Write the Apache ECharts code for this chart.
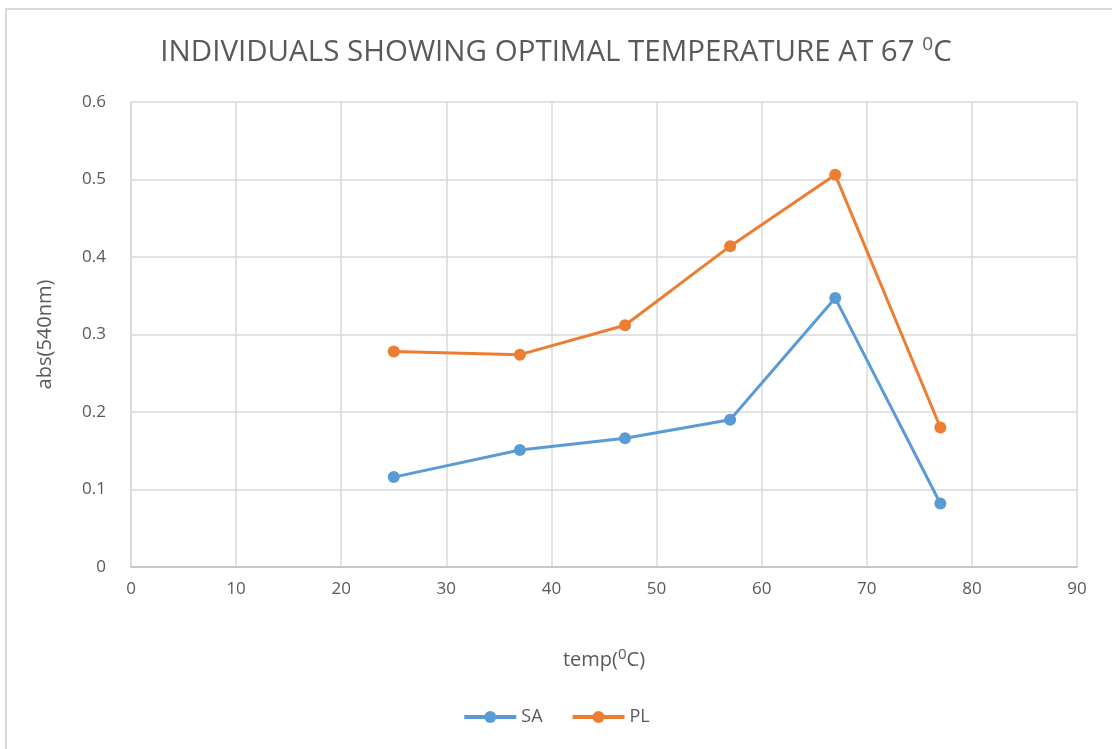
<!DOCTYPE html>
<html>
<head>
<meta charset="utf-8">
<script src="https://cdn.jsdelivr.net/npm/echarts@6/dist/echarts.min.js"></script>
<style>
  html, body { margin: 0; padding: 0; background: #fff; }
  #main { width: 1112px; height: 749px; }
</style>
</head>
<body>
<div id="main"></div>
<script>
// data
var temps = [25, 37, 47, 57, 67, 77];
var saValues = [0.116, 0.151, 0.166, 0.190, 0.347, 0.082];
var plValues = [0.278, 0.274, 0.312, 0.414, 0.506, 0.180];
var seriesNames = ["SA", "PL"];

function pairs(xs, ys) {
  var out = [];
  for (var i = 0; i < xs.length; i++) out.push([xs[i], ys[i]]);
  return out;
}

var textColor = "#595959";
var fontName = "'Open Sans', 'Liberation Sans', sans-serif";
var supStyle = { fontSize: 15, verticalAlign: "top", padding: [0, 0, 12, 0], color: textColor, fontFamily: fontName };

var chartDom = document.getElementById("main");
var myChart = echarts.init(chartDom);
var option = {
  animation: false,
  color: ["#5B9BD5", "#ED7D31"],
  graphic: [{
    type: "rect",
    shape: { x: 6, y: 9, width: 1200, height: 800 },
    style: { fill: "none", stroke: "#d9d9d9", lineWidth: 2 },
    silent: true
  }],
  title: {
    text: "INDIVIDUALS SHOWING OPTIMAL TEMPERATURE AT 67 {sup|0}C",
    left: "center",
    top: 30,
    textStyle: {
      color: textColor,
      fontSize: 29.5,
      fontWeight: "normal",
      fontFamily: fontName,
      rich: { sup: { fontSize: 19, color: textColor, fontFamily: fontName, verticalAlign: "top", padding: [0, 0, 16, 0] } }
    }
  },
  legend: {
    data: seriesNames,
    bottom: 18,
    left: "center",
    itemWidth: 52,
    itemHeight: 15,
    itemGap: 28,
    lineStyle: { width: 4 },
    textStyle: { color: textColor, fontSize: 18, fontFamily: fontName }
  },
  grid: { left: 131, right: 35, top: 102, bottom: 182 },
  xAxis: {
    type: "value",
    min: 0,
    max: 90,
    interval: 10,
    name: "temp({sup|0}C)",
    nameLocation: "middle",
    nameGap: 80,
    nameTextStyle: { color: textColor, fontSize: 20, fontFamily: fontName, rich: { sup: supStyle } },
    axisLine: { show: true, lineStyle: { color: "#bfbfbf", width: 1.5 } },
    axisTick: { show: false },
    axisLabel: { color: textColor, fontSize: 17, fontFamily: fontName, margin: 14 },
    splitLine: { show: true, lineStyle: { color: "#d9d9d9", width: 1.5 } }
  },
  yAxis: {
    type: "value",
    min: 0,
    max: 0.6,
    interval: 0.1,
    name: "abs(540nm)",
    nameLocation: "middle",
    nameGap: 76,
    nameTextStyle: { color: textColor, fontSize: 20, fontFamily: fontName },
    axisLine: { show: true, lineStyle: { color: "#d9d9d9", width: 1.5 } },
    axisTick: { show: false },
    axisLabel: { color: textColor, fontSize: 17, fontFamily: fontName, margin: 25 },
    splitLine: { show: true, lineStyle: { color: "#d9d9d9", width: 1.5 } }
  },
  series: [
    {
      name: seriesNames[0],
      type: "line",
      data: pairs(temps, saValues),
      symbol: "circle",
      symbolSize: 12,
      lineStyle: { width: 3 }
    },
    {
      name: seriesNames[1],
      type: "line",
      data: pairs(temps, plValues),
      symbol: "circle",
      symbolSize: 12,
      lineStyle: { width: 3 }
    }
  ]
};
option && myChart.setOption(option);
</script>
</body>
</html>
